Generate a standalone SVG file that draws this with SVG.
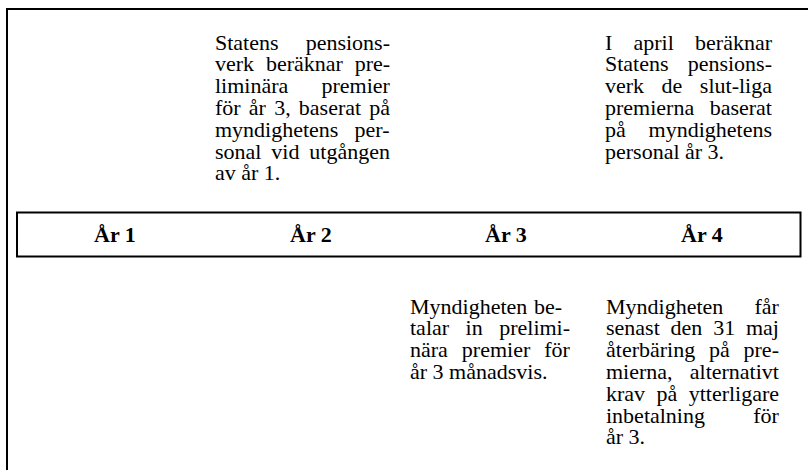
<svg xmlns="http://www.w3.org/2000/svg" width="808" height="470" viewBox="0 0 808 470">
<style>
.t{font-family:"Liberation Serif","Times New Roman",serif;font-size:22px;fill:#000}
.y{font-family:"Liberation Serif","Times New Roman",serif;font-size:22px;font-weight:bold;text-anchor:middle;fill:#000}
.ln{fill:none;stroke:#000;stroke-width:2}
</style>
<rect width="808" height="470" fill="#fff"/>
<g id="frame"><path class="ln" d="M7,470 V9 H808"/></g>
<g id="timeline">
<rect class="ln" x="17" y="212.5" width="783.5" height="44"/>
<text class="y" x="115" y="241.5">År 1</text>
<text class="y" x="311" y="241.5">År 2</text>
<text class="y" x="506" y="241.5">År 3</text>
<text class="y" x="702" y="241.5">År 4</text>
</g>
<g id="note-ar2-top" class="t" font-family="Liberation Serif, serif" font-size="22">
<text x="215" y="49.5" word-spacing="21.6">Statens pensions-</text>
<text x="215" y="71.3" word-spacing="6.3">verk beräknar pre-</text>
<text x="215" y="93.1" word-spacing="27.7">liminära premier</text>
<text x="215" y="114.9" word-spacing="2.7">för år 3, baserat på</text>
<text x="215" y="136.7" word-spacing="10.6">myndighetens per-</text>
<text x="215" y="158.5" word-spacing="4.4">sonal vid utgången</text>
<text x="215" y="180.3">av år 1.</text>
</g>
<g id="note-ar4-top" class="t" font-family="Liberation Serif, serif" font-size="22">
<text x="605" y="49.5" word-spacing="15.7">I april beräknar</text>
<text x="605" y="71.3" word-spacing="13.6">Statens pensions-</text>
<text x="605" y="93.1" word-spacing="12">verk de slut-liga</text>
<text x="605" y="114.9" word-spacing="10">premierna baserat</text>
<text x="605" y="136.7" word-spacing="17.3">på myndighetens</text>
<text x="605" y="158.5">personal år 3.</text>
</g>
<g id="note-ar3-bottom" class="t" font-family="Liberation Serif, serif" font-size="22">
<text x="410" y="313.5" word-spacing="1.1">Myndigheten be-</text>
<text x="410" y="335.3" word-spacing="11">talar in prelimi-</text>
<text x="410" y="357.1" word-spacing="8.5">nära premier för</text>
<text x="410" y="378.9">år 3 månadsvis.</text>
</g>
<g id="note-ar4-bottom" class="t" font-family="Liberation Serif, serif" font-size="22">
<text x="606" y="313.5" word-spacing="25.7">Myndigheten får</text>
<text x="606" y="335.3" word-spacing="5.3">senast den 31 maj</text>
<text x="606" y="357.1" word-spacing="8.3">återbäring på pre-</text>
<text x="606" y="378.9" word-spacing="11.7">mierna, alternativt</text>
<text x="606" y="400.7" word-spacing="5.9">krav på ytterligare</text>
<text x="606" y="422.5" word-spacing="42.8">inbetalning för</text>
<text x="606" y="444.3">år 3.</text>
</g>
<g id="connectors"/>
</svg>
